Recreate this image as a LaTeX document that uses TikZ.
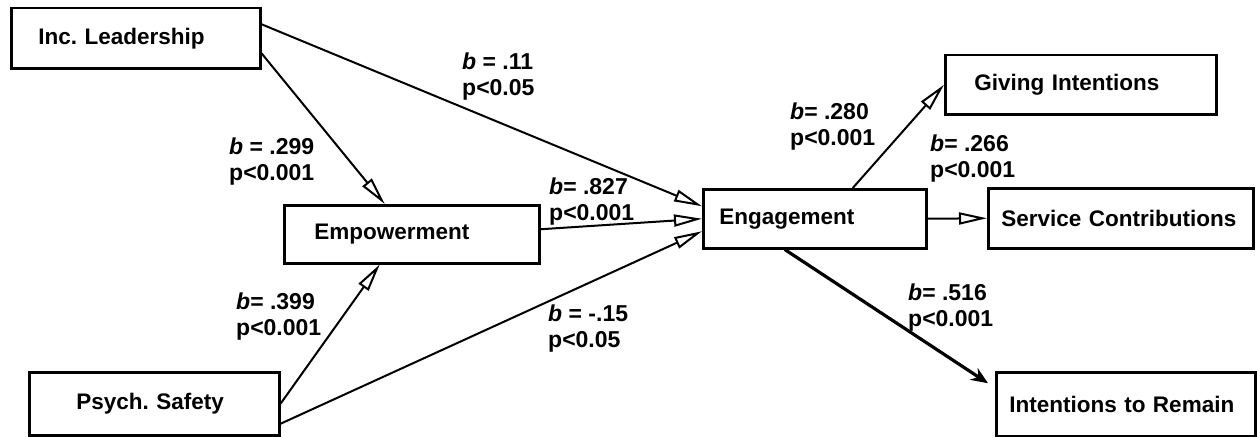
\documentclass[tikz,border=0pt]{standalone}
\usepackage{fontspec}
\setmainfont{Liberation Sans}
\frenchspacing
\usetikzlibrary{arrows.meta}
\begin{document}
\begin{tikzpicture}[x=1pt,y=-1pt,
  box/.style={draw, line width=2.5pt, anchor=north west, align=left, inner ysep=0pt,
    font=\fontsize{22.5}{26}\selectfont\bfseries},
  lab/.style={anchor=north west, align=left, inner sep=0pt,
    font=\fontsize{23}{25.5}\selectfont\bfseries},
  conn/.style={line width=2pt, -{Triangle[open,length=28pt,width=12pt]}},
  bigconn/.style={line width=3.2pt, -{Stealth[length=17pt,width=14pt]}}]
\useasboundingbox (0,0) rectangle (1257,436);

\node[box, text width=195pt, inner xsep=27pt, minimum height=60pt] (inc) at (10,7) {Inc. Leadership};
\node[box, text width=195pt, inner xsep=30pt, minimum height=58pt] (emp) at (283,204) {Empowerment};
\node[box, text width=156pt, inner xsep=47pt, minimum height=63pt] (psy) at (28,371) {Psych. Safety};
\node[box, text width=191pt, inner xsep=16pt, minimum height=59pt] (eng) at (702,188) {Engagement};
\node[box, text width=213pt, inner xsep=29pt, minimum height=59pt] (giv) at (944,54) {Giving Intentions};
\node[box, text width=239pt, inner xsep=13pt, minimum height=60pt] (ser) at (987,187) {Service Contributions};
\node[box, text width=233pt, inner xsep=13pt, minimum height=64pt] (rem) at (995,371) {Intentions to Remain};

\coordinate (remtip) at ([xshift=-7pt,yshift=21pt]rem.west);

\draw[conn] ([yshift=14pt]inc.east) -- ([yshift=12.5pt]eng.west);
\draw[conn] ([yshift=-15pt]inc.east) -- ([xshift=-27pt]emp.north);
\draw[conn] ([yshift=5pt]emp.east) -- (eng.west);
\draw[conn] (psy.east) -- ([xshift=-32pt]emp.south);
\draw[conn] ([yshift=-20pt]psy.east) -- ([yshift=-12.5pt]eng.west);
\draw[conn] ([xshift=38pt]eng.north) -- (giv.west);
\draw[conn] (eng.east) -- (ser.west);
\draw[bigconn] ([xshift=-30pt]eng.south) -- (remtip);

\node[lab] (l11) at (462,53) {\textit{b} = .11\\p<0.05};
\node[lab] (l299) at (229,138) {\textit{b} = .299\\p<0.001};
\node[lab] (l827) at (549,178) {\textit{b}= .827\\p<0.001};
\node[lab] (l399) at (236,293) {\textit{b}= .399\\p<0.001};
\node[lab] (l15) at (548,305) {\textit{b} = -.15\\p<0.05};
\node[lab] (l280) at (790,103) {\textit{b}= .280\\p<0.001};
\node[lab] (l266) at (930,135) {\textit{b}= .266\\p<0.001};
\node[lab] (l516) at (908,284) {\textit{b}= .516\\p<0.001};
\end{tikzpicture}
\end{document}
